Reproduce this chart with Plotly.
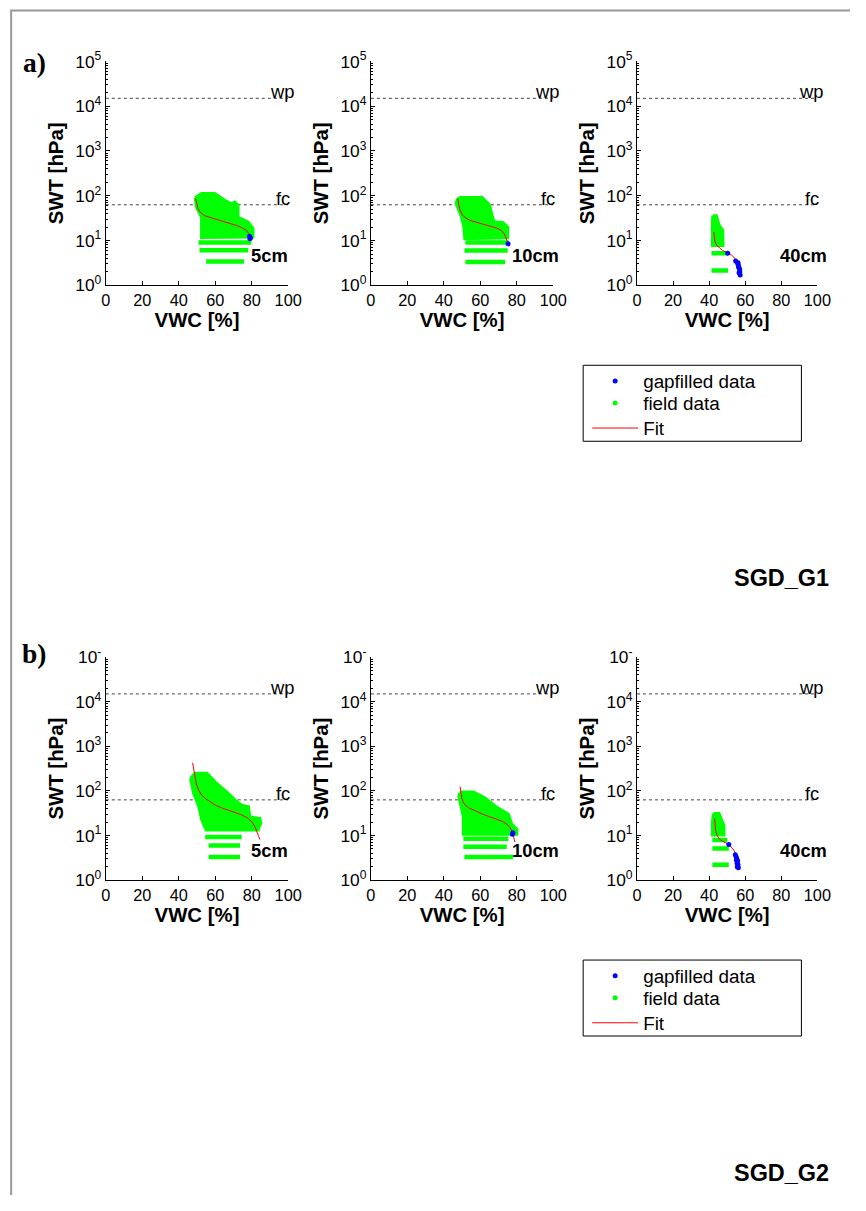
import math
import plotly.graph_objects as go

# The browser keeps its default 8px body margin, so the figure is made
# 16px smaller than the window.  The captured page comes out slightly
# reduced, so positions given in window pixels are mapped back through
# that reduction (SCALE_*, SHIFT_*) before being turned into paper units.
PAGE_W, PAGE_H = 866, 1211
BODY_MARGIN = 8
W, H = PAGE_W - 2 * BODY_MARGIN, PAGE_H - 2 * BODY_MARGIN
SCALE_X, SCALE_Y = 0.981, 0.982
SHIFT_X, SHIFT_Y = -5.0, 3.7
FS = 1 / SCALE_X            # font compensation
SANS = "Liberation Sans, Arial, sans-serif"
SERIF = "Liberation Serif, Times New Roman, serif"

# ---------------- axes / reference values ----------------
VWC_TICKS = [0, 20, 40, 60, 80, 100]
SWT_TICKS = [1, 10, 100, 1000, 10000, 100000]
SWT_TICKTEXT_G1 = ["10<sup>0</sup>", "10<sup>1</sup>", "10<sup>2</sup>",
                   "10<sup>3</sup>", "10<sup>4</sup>", "10<sup>5</sup>"]
SWT_TICKTEXT_G2 = ["10<sup>0</sup>", "10<sup>1</sup>", "10<sup>2</sup>",
                   "10<sup>3</sup>", "10<sup>4</sup>", "10<sup>-</sup>"]
WP = 15000   # wilting point [hPa]
FC = 63      # field capacity [hPa]
DEPTHS = ["5cm", "10cm", "40cm"]
SITES = ["SGD_G1", "SGD_G2"]
ROW_TAGS = ["a)", "b)"]
LEGEND_LABELS = ["gapfilled data", "field data", "Fit"]

# ---------------- SGD_G1, 5 cm ----------------
g1_5_cloud_vwc = [49.0, 52.5, 59.7, 65.2, 68.9, 70.7, 72.5, 72.5, 78.0, 80.7, 80.7, 52.5, 52.5, 49.7]
g1_5_cloud_swt = [90, 112, 112, 79, 66, 72, 62, 33, 26, 18.6, 12, 11.7, 33, 56]
g1_5_band_swt = [9.1, 6.1, 3.4]
g1_5_band_lo = [50.8, 51.4, 55.0]
g1_5_band_hi = [79.8, 78.1, 75.8]
g1_5_fit_vwc = [49.2, 49.8, 50.6, 52.0, 54.2, 57.0, 60.0, 64.0, 68.0, 72.0, 75.0, 77.0, 78.2, 78.9]
g1_5_fit_swt = [87, 65, 51, 42, 36, 33, 30.5, 27, 24, 21.5, 19, 17, 14.5, 11.5]
g1_5_gap_vwc = [78.8, 79.3, 79.0]
g1_5_gap_swt = [12.5, 11.5, 11.0]

# ---------------- SGD_G1, 10 cm ----------------
g1_10_cloud_vwc = [46.7, 49.0, 61.0, 65.0, 66.5, 67.5, 72.5, 75.0, 75.0, 51.5, 51.0, 49.5, 47.0]
g1_10_cloud_swt = [79, 91, 91, 63, 35.5, 26.3, 25.1, 20, 11.5, 11, 20, 35.5, 63]
g1_10_band_swt = [9.1, 6.0, 3.3]
g1_10_band_lo = [51.8, 51.3, 51.8]
g1_10_band_hi = [75.5, 75.0, 73.6]
g1_10_fit_vwc = [47.6, 48.0, 48.6, 50.0, 52.0, 54.5, 58.0, 61.8, 66.0, 69.0, 71.5, 73.2, 74.5, 75.5]
g1_10_fit_swt = [85, 66, 52, 38, 32, 28, 25.5, 23.4, 21.0, 19.0, 16.8, 14.0, 10.2, 7.4]
g1_10_gap_vwc = [75.2]
g1_10_gap_swt = [8.5]

# ---------------- SGD_G1, 40 cm ----------------
g1_40_cloud_vwc = [42.0, 44.0, 45.5, 47.5, 47.7, 41.8, 41.8]
g1_40_cloud_swt = [36, 36, 22, 17, 7.8, 7.8, 20]
g1_40_band_swt = [5.2, 2.15]
g1_40_band_lo = [41.3, 41.3]
g1_40_band_hi = [50.5, 50.5]
g1_40_fit_vwc = [42.6, 42.8, 43.2, 44.2, 45.5, 47.5, 50.0, 52.5, 54.3, 55.4, 56.0, 56.4, 56.6]
g1_40_fit_swt = [15.5, 12.0, 9.5, 7.8, 6.9, 6.0, 5.3, 4.7, 4.0, 3.3, 2.7, 2.2, 1.8]
g1_40_gap_vwc = [50.3, 54.7, 56.0, 55.8, 56.3, 56.2, 56.5, 56.9, 57.0, 56.6, 57.2]
g1_40_gap_swt = [5.2, 3.5, 3.2, 3.1, 2.6, 2.8, 2.5, 2.3, 2.0, 1.9, 1.7]

# ---------------- SGD_G2, 5 cm ----------------
g2_5_cloud_vwc = [46.4, 49.0, 55.5, 60.0, 67.3, 70.9, 74.5, 78.2, 79.0, 84.5, 85.0, 83.6, 83.6,
                  55.0, 52.7, 51.0, 48.2]
g2_5_cloud_swt = [190, 250, 250, 158, 87, 62, 48, 44, 26, 24, 18.6, 14.5, 13.2,
                  13.2, 22, 44, 87]
g2_5_band_swt = [9.3, 6.0, 3.3]
g2_5_band_lo = [54.5, 56.4, 56.4]
g2_5_band_hi = [74.5, 73.6, 73.6]
g2_5_fit_vwc = [47.6, 48.2, 48.7, 49.6, 51.0, 52.6, 54.5, 57.0, 60.0, 64.0, 67.3, 71.0, 74.5,
                77.5, 80.0, 81.7, 82.7, 83.7, 84.5]
g2_5_fit_swt = [425, 290, 205, 145, 102, 80, 68, 57, 48, 41, 37, 33, 29,
                25, 20.4, 16, 12, 9.8, 8.1]
g2_5_gap_vwc = []
g2_5_gap_swt = []

# ---------------- SGD_G2, 10 cm ----------------
g2_10_cloud_vwc = [48.9, 49.8, 56.2, 62.6, 68.0, 75.4, 77.2, 80.0, 80.0, 50.7, 50.7, 48.2]
g2_10_cloud_swt = [91, 94, 94, 69, 46, 30, 18, 13.8, 10.7, 10.7, 26, 76]
g2_10_band_swt = [8.5, 5.6, 3.3]
g2_10_band_lo = [50.7, 50.7, 51.3]
g2_10_band_hi = [75.4, 74.5, 78.0]
g2_10_fit_vwc = [48.9, 49.2, 49.8, 50.6, 51.6, 53.5, 57.1, 61.0, 64.4, 68.0, 71.7, 74.5, 76.3,
                 77.4, 78.1, 79.0]
g2_10_fit_swt = [126, 92, 69, 57, 49, 42, 35.5, 30.5, 27, 24, 21, 18, 15,
                 12.3, 10, 7.1]
g2_10_gap_vwc = [77.6, 77.9]
g2_10_gap_swt = [10.7, 11.5]

# ---------------- SGD_G2, 40 cm ----------------
g2_40_cloud_vwc = [42.4, 45.5, 47.0, 48.2, 48.2, 41.8, 41.8]
g2_40_cloud_swt = [31, 31, 22, 17, 10.2, 10.2, 20]
g2_40_band_swt = [7.9, 5.1, 2.2]
g2_40_band_lo = [41.8, 41.8, 41.8]
g2_40_band_hi = [50.0, 50.9, 50.9]
g2_40_fit_vwc = [43.1, 43.2, 43.5, 44.3, 45.5, 47.2, 49.1, 50.6, 51.8, 52.9, 53.8, 54.7, 55.2,
                 55.5, 55.5]
g2_40_fit_swt = [24, 18, 13.2, 10.3, 8.5, 7.5, 6.9, 6.4, 5.8, 5.2, 4.6, 3.9, 3.2,
                 2.5, 1.9]
g2_40_gap_vwc = [50.9, 54.5, 55.0, 55.3, 55.2, 55.8, 55.5, 56.0, 55.6, 56.2]
g2_40_gap_swt = [6.3, 3.7, 3.3, 3.0, 2.8, 2.7, 2.4, 2.2, 2.0, 1.9]

PANELS = [
    [
        (g1_5_cloud_vwc, g1_5_cloud_swt, g1_5_band_swt, g1_5_band_lo, g1_5_band_hi,
         g1_5_fit_vwc, g1_5_fit_swt, g1_5_gap_vwc, g1_5_gap_swt),
        (g1_10_cloud_vwc, g1_10_cloud_swt, g1_10_band_swt, g1_10_band_lo, g1_10_band_hi,
         g1_10_fit_vwc, g1_10_fit_swt, g1_10_gap_vwc, g1_10_gap_swt),
        (g1_40_cloud_vwc, g1_40_cloud_swt, g1_40_band_swt, g1_40_band_lo, g1_40_band_hi,
         g1_40_fit_vwc, g1_40_fit_swt, g1_40_gap_vwc, g1_40_gap_swt),
    ],
    [
        (g2_5_cloud_vwc, g2_5_cloud_swt, g2_5_band_swt, g2_5_band_lo, g2_5_band_hi,
         g2_5_fit_vwc, g2_5_fit_swt, g2_5_gap_vwc, g2_5_gap_swt),
        (g2_10_cloud_vwc, g2_10_cloud_swt, g2_10_band_swt, g2_10_band_lo, g2_10_band_hi,
         g2_10_fit_vwc, g2_10_fit_swt, g2_10_gap_vwc, g2_10_gap_swt),
        (g2_40_cloud_vwc, g2_40_cloud_swt, g2_40_band_swt, g2_40_band_lo, g2_40_band_hi,
         g2_40_fit_vwc, g2_40_fit_swt, g2_40_gap_vwc, g2_40_gap_swt),
    ],
]

GREEN = "#00ff00"
BLUE = "#0000ff"
RED = "#ff0000"

# ---------------- page geometry (window pixels) ----------------
COLS = [(104, 287), (370, 553), (637, 818)]
ROWS = [(61, 285), (657, 880)]
LEGEND_TOP = [365, 960]
LEGEND_ROW_Y = [16, 38, 63]      # entry centres below the box top


def px(x):
    return ((x - SHIFT_X) / SCALE_X - BODY_MARGIN) / W


def py(y):
    return 1 - ((y - SHIFT_Y) / SCALE_Y - BODY_MARGIN) / H


def band_xy(swt, lo, hi):
    xs, ys = [], []
    for s, a, b in zip(swt, lo, hi):
        xs += [a, b, None]
        ys += [s, s, None]
    return xs, ys


def legend_id(r, k):
    i = r * 3 + k + 1
    return "legend" if i == 1 else "legend" + str(i)


minor_vals = [m * 10 ** k for k in range(0, 5) for m in range(2, 10)]

fig = go.Figure()
layout = dict(
    width=W, height=H, autosize=False,
    margin=dict(l=0, r=0, t=0, b=0),
    paper_bgcolor="white", plot_bgcolor="white",
    showlegend=True,
)
annotations = []
shapes = []

for r, row in enumerate(PANELS):
    for c, data in enumerate(row):
        n = r * 3 + c + 1
        sfx = "" if n == 1 else str(n)
        xa, ya = "x" + sfx, "y" + sfx
        (cl_v, cl_s, b_s, b_lo, b_hi, f_v, f_s, g_v, g_s) = data
        last = (c == 2)

        # reference lines: wilting point and field capacity
        for val in (WP, FC):
            fig.add_trace(go.Scatter(
                x=[VWC_TICKS[0], VWC_TICKS[-1]], y=[val, val], mode="lines",
                line=dict(color="#444444", width=1, dash="dot"),
                xaxis=xa, yaxis=ya, showlegend=False, hoverinfo="skip"))

        # field data: dense cloud
        fig.add_trace(go.Scatter(
            x=cl_v + [cl_v[0]], y=cl_s + [cl_s[0]], mode="lines", fill="toself",
            fillcolor=GREEN, line=dict(color=GREEN, width=3),
            xaxis=xa, yaxis=ya, showlegend=False, name=LEGEND_LABELS[1],
            legendgroup="field" + str(r)))
        # field data: discrete tension levels
        bx, by = band_xy(b_s, b_lo, b_hi)
        fig.add_trace(go.Scatter(
            x=bx, y=by, mode="lines", line=dict(color=GREEN, width=4.5),
            xaxis=xa, yaxis=ya, showlegend=False, name=LEGEND_LABELS[1],
            legendgroup="field" + str(r)))

        if last:
            # legend entry for the field data
            fig.add_trace(go.Scatter(
                x=[None], y=[None], mode="markers", name=LEGEND_LABELS[1],
                marker=dict(color=GREEN, size=5),
                xaxis=xa, yaxis=ya, legend=legend_id(r, 1),
                legendgroup="field" + str(r)))

        # fitted retention curve
        fig.add_trace(go.Scatter(
            x=f_v, y=f_s, mode="lines", name=LEGEND_LABELS[2],
            line=dict(color=RED, width=1),
            xaxis=xa, yaxis=ya, showlegend=last, legend=legend_id(r, 2)))

        # gap-filled data
        fig.add_trace(go.Scatter(
            x=g_v, y=g_s, mode="markers", name=LEGEND_LABELS[0],
            marker=dict(color=BLUE, size=5),
            xaxis=xa, yaxis=ya, showlegend=last, legend=legend_id(r, 0)))

        x0, x1 = COLS[c]
        y0, y1 = ROWS[r]
        layout["xaxis" + sfx] = dict(
            domain=[px(x0), px(x1)], anchor=ya, range=[0, 100],
            tickmode="array", tickvals=VWC_TICKS,
            ticks="inside", ticklen=4, tickcolor="black",
            showline=True, linecolor="black", linewidth=1, mirror=False,
            showgrid=False, zeroline=False,
            tickfont=dict(family=SANS, size=16 * FS, color="black"),
            title=dict(text="<b>VWC [%]</b>", standoff=4,
                       font=dict(family=SANS, size=20 * FS, color="black")),
        )
        layout["yaxis" + sfx] = dict(
            domain=[py(y1), py(y0)], anchor=xa, type="log", range=[0, 5],
            tickmode="array", tickvals=SWT_TICKS,
            ticktext=SWT_TICKTEXT_G1 if r == 0 else SWT_TICKTEXT_G2,
            ticks="inside", ticklen=4, tickcolor="black",
            minor=dict(tickmode="array", tickvals=minor_vals, ticks="inside",
                       ticklen=2, tickcolor="black", showgrid=False),
            showline=True, linecolor="black", linewidth=1, mirror=False,
            showgrid=False, zeroline=False,
            tickfont=dict(family=SANS, size=17 * FS, color="black"),
            title=dict(text="<b>SWT [hPa]</b>", standoff=6,
                       font=dict(family=SANS, size=20 * FS, color="black")),
        )

        # labels for the reference lines and the depth
        annotations.append(dict(x=96.7, y=math.log10(WP), xref=xa, yref=ya, text="wp",
                                showarrow=False, xanchor="center", yanchor="bottom", yshift=-6,
                                font=dict(family=SANS, size=18 * FS, color="black")))
        annotations.append(dict(x=97, y=math.log10(FC), xref=xa, yref=ya, text="fc",
                                showarrow=False, xanchor="center", yanchor="bottom", yshift=-6,
                                font=dict(family=SANS, size=18 * FS, color="black")))
        annotations.append(dict(x=[89.6, 90.2, 92.5][c], y=0.67, xref=xa, yref=ya,
                                text="<b>" + DEPTHS[c] + "</b>", showarrow=False,
                                xanchor="center", yanchor="middle",
                                font=dict(family=SANS, size=18 * FS, color="black")))

    # row tag and site name
    annotations.append(dict(x=px(32), y=py([62, 653][r]), xref="paper", yref="paper",
                            text="<b>" + ROW_TAGS[r] + "</b>", showarrow=False,
                            xanchor="center", yanchor="middle",
                            font=dict(family=SERIF, size=27 * FS, color="black")))
    annotations.append(dict(x=px(832), y=py([578, 1173][r]), xref="paper", yref="paper",
                            text="<b>" + SITES[r] + "</b>", showarrow=False,
                            xanchor="right", yanchor="middle",
                            font=dict(family=SANS, size=23 * FS, color="black")))

    # legend box with one legend per entry so each row sits at its own height
    top = LEGEND_TOP[r]
    shapes.append(dict(type="rect", xref="paper", yref="paper",
                       x0=px(583), x1=px(802), y0=py(top + 76), y1=py(top),
                       line=dict(color="black", width=1), fillcolor="rgba(0,0,0,0)"))
    for k, dy in enumerate(LEGEND_ROW_Y):
        layout[legend_id(r, k)] = dict(
            x=px(587), y=py(top + dy), xanchor="left", yanchor="middle",
            bgcolor="rgba(0,0,0,0)", borderwidth=0, itemwidth=46,
            tracegroupgap=0,
            font=dict(family=SANS, size=18.5 * FS, color="black"))

# outer frame (only its top and left edges fall inside the page)
shapes.append(dict(type="rect", xref="paper", yref="paper",
                   x0=px(9), x1=3.0, y0=-3.0, y1=py(10),
                   line=dict(color="#999999", width=2), fillcolor="rgba(0,0,0,0)"))

layout["annotations"] = annotations
layout["shapes"] = shapes
fig.update_layout(**layout)
fig.write_html("out.html")
